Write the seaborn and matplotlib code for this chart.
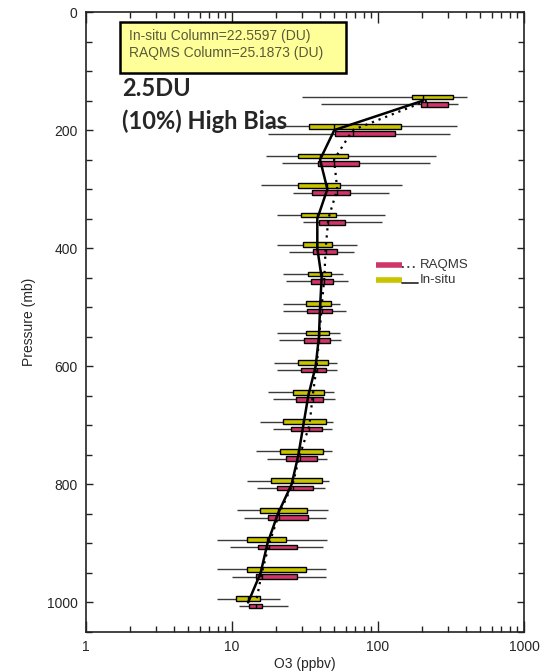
import matplotlib

matplotlib.use("Agg")
import matplotlib.pyplot as plt
import pandas as pd
import seaborn as sns
from matplotlib.lines import Line2D
from matplotlib.patches import Rectangle
from matplotlib.ticker import LogLocator, MultipleLocator, NullFormatter


LEVELS = [150, 200, 250, 300, 350, 400, 450, 500, 550,
          600, 650, 700, 750, 800, 850, 900, 950, 1000]

# in-situ (yellow) box stats, ppbv
INSITU_Q1 = [172, 33.9, 28.2, 28.2, 29.7, 30.8, 33.0, 32.0, 32.0,
             28.2, 26.3, 22.5, 21.3, 18.4, 15.5, 12.6, 12.7, 10.6]
INSITU_MED = [204, 50.2, 40.1, 45.0, 38.4, 38.4, 41.1, 40.1, 39.4,
              37.4, 33.3, 30.8, 28.5, 25.6, 20.6, 17.5, 15.7, 12.9]
INSITU_Q3 = [325, 143, 62.0, 54.9, 51.6, 48.6, 47.4, 47.4, 46.4,
             45.7, 42.9, 43.8, 41.8, 41.1, 32.5, 23.4, 32.1, 15.5]
INSITU_LO = [30, 17.7, 17.1, 15.7, 20.4, 20.4, 22.3, 22.3, 20.4,
             19.4, 17.6, 15.5, 14.6, 12.6, 10.8, 7.9, 7.9, 7.9]
INSITU_HI = [405, 346, 248, 145, 112, 71.5, 57.8, 54.9, 54.9,
             52.1, 50.2, 49.4, 48.2, 46.4, 45.2, 44.5, 44.0, 21.3]

# RAQMS (magenta) box stats, ppbv
RAQMS_Q1 = [196, 50.8, 39.0, 35.2, 39.6, 36.0, 34.6, 32.5, 31.1,
            29.7, 27.4, 25.4, 23.4, 20.4, 17.6, 15.1, 14.5, 13.1]
RAQMS_MED = [216, 67.1, 50.0, 52.6, 45.7, 43.8, 42.9, 41.1, 39.6,
             38.0, 35.7, 33.9, 29.2, 26.0, 21.0, 18.0, 16.0, 14.6]
RAQMS_Q3 = [303, 131, 74.1, 64.3, 59.4, 52.1, 48.9, 48.6, 46.9,
            44.0, 42.2, 41.1, 38.0, 35.7, 33.3, 28.0, 27.7, 16.1]
RAQMS_LO = [40.7, 17.7, 21.9, 26.3, 30.5, 24.6, 23.4, 22.3, 21.1,
            20.4, 19.2, 19.2, 17.5, 14.9, 12.1, 9.7, 9.95, 11.2]
RAQMS_HI = [355, 311, 227, 119, 106, 68.8, 62.6, 60.4, 55.5,
            52.6, 50.8, 48.2, 44.5, 43.4, 44.0, 41.8, 43.8, 24.3]

XTICKS = [1, 10, 100, 1000]
XTICK_LABELS = ["1", "10", "100", "1000"]
YTICKS = [0, 200, 400, 600, 800, 1000]

YELLOW = "#c8c400"
MAGENTA = "#cf3569"
W, H = 540, 671


def draw_boxes(ax, df, prefix, offset, color):
    y = df["level"] + offset
    h = 8
    ax.hlines(y, df[prefix + "_lo"], df[prefix + "_hi"], color="#3a3a3a", lw=1.0, zorder=2)
    ax.barh(y, df[prefix + "_q3"] - df[prefix + "_q1"], left=df[prefix + "_q1"], height=h,
            color=color, edgecolor="black", linewidth=1.0, zorder=3)
    ax.vlines(df[prefix + "_med"], y - h / 2, y + h / 2, color="black", lw=1.0, zorder=4)


def main() -> None:
    sns.set_style("ticks")
    plt.rcParams["font.family"] = ["Liberation Sans", "DejaVu Sans"]

    df = pd.DataFrame({
        "level": LEVELS,
        "insitu_q1": INSITU_Q1, "insitu_med": INSITU_MED, "insitu_q3": INSITU_Q3,
        "insitu_lo": INSITU_LO, "insitu_hi": INSITU_HI,
        "raqms_q1": RAQMS_Q1, "raqms_med": RAQMS_MED, "raqms_q3": RAQMS_Q3,
        "raqms_lo": RAQMS_LO, "raqms_hi": RAQMS_HI,
    })

    fig = plt.figure(figsize=(W / 100, H / 100), dpi=100)
    ax = fig.add_axes([86 / W, 1 - 632 / H, (524 - 86) / W, (632 - 12) / H])

    draw_boxes(ax, df, "insitu", -6.2, YELLOW)
    draw_boxes(ax, df, "raqms", 6.2, MAGENTA)

    sns.lineplot(data=df, x="insitu_med", y="level", orient="y", sort=False, estimator=None,
                 color="black", lw=1.8, ax=ax, zorder=5)
    sns.lineplot(data=df, x="raqms_med", y="level", orient="y", sort=False, estimator=None,
                 color="black", lw=1.6, linestyle=(0, (1, 2.2)), ax=ax, zorder=5)

    ax.set_xscale("log")
    ax.set_xlim(1, 1000)
    ax.set_ylim(1050, 0)
    ax.set_xticks(XTICKS, labels=XTICK_LABELS)
    ax.xaxis.set_minor_locator(LogLocator(base=10, subs=range(2, 10)))
    ax.xaxis.set_minor_formatter(NullFormatter())
    ax.set_yticks(YTICKS)
    ax.yaxis.set_minor_locator(MultipleLocator(50))
    ax.tick_params(which="both", direction="in", top=True, right=True, labelsize=10,
                   color="#222222", width=1.0)
    ax.tick_params(axis="x", which="major", length=8, pad=6)
    ax.tick_params(axis="x", which="minor", length=4)
    ax.tick_params(axis="y", which="major", length=5, pad=6)
    ax.tick_params(axis="y", which="minor", length=4)
    for s in ax.spines.values():
        s.set_linewidth(1.2)
        s.set_color("#222222")

    ax.set_xlabel("O3 (ppbv)", fontsize=10, labelpad=2)
    ax.set_ylabel("Pressure (mb)", fontsize=10, labelpad=8)

    # column box
    fig.patches.append(Rectangle((120 / W, 1 - 73 / H), 226 / W, 51 / H, transform=fig.transFigure,
                                 facecolor="#ffff99", edgecolor="black", linewidth=1.8, zorder=6))
    fig.text(129 / W, 1 - 36 / H, "In-situ Column=22.5597 (DU)", fontsize=10, color="#5a5a3a",
             va="center", zorder=7)
    fig.text(129 / W, 1 - 53.5 / H, "RAQMS Column=25.1873 (DU)", fontsize=10, color="#5a5a3a",
             va="center", zorder=7)

    fig.text(122 / W, 1 - 88 / H, "2.5DU", fontsize=17, fontweight="bold", family="Lato",
             va="center", zorder=7)
    fig.text(122 / W, 1 - 121 / H, "(10%) High Bias", fontsize=17, fontweight="bold", family="Lato",
             va="center", zorder=7)

    # legend
    for yy, col, ls, lab in [(265, MAGENTA, (0, (1, 2)), "RAQMS"), (280, YELLOW, "-", "In-situ")]:
        fig.add_artist(Line2D([376 / W, 402 / W], [1 - yy / H] * 2, color=col, lw=4,
                              solid_capstyle="butt", transform=fig.transFigure))
        fig.add_artist(Line2D([402 / W, 418 / W], [1 - (yy + 2.5) / H] * 2, color="#333333", lw=1.3,
                              linestyle=ls, transform=fig.transFigure))
        fig.text(420 / W, 1 - yy / H, lab, fontsize=9.5, color="#333333", va="center")

    fig.savefig("out.png", dpi=100)
    plt.close(fig)


if __name__ == "__main__":
    main()
